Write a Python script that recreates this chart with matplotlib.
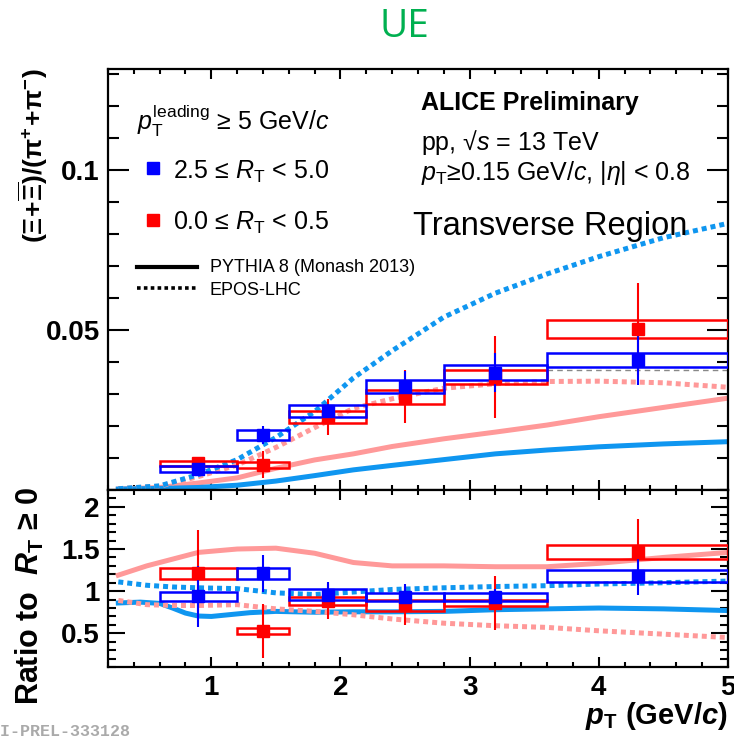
import numpy as np
import matplotlib.pyplot as plt

plt.rcParams['font.family'] = 'Liberation Sans'
plt.rcParams['mathtext.fontset'] = 'custom'
plt.rcParams['mathtext.rm'] = 'Liberation Sans'
plt.rcParams['mathtext.it'] = 'Liberation Sans:italic'
plt.rcParams['mathtext.bf'] = 'Liberation Sans:bold'
plt.rcParams['mathtext.bfit'] = 'Liberation Sans:italic:bold'

# pT bins and points
bin_lo = [0.6, 1.2, 1.6, 2.2, 2.8, 3.6]
bin_hi = [1.2, 1.6, 2.2, 2.8, 3.6, 5.0]
pt_pts = [0.9, 1.4, 1.9, 2.5, 3.2, 4.3]

# ratio Xi/pi, 2.5 <= RT < 5.0
hi_val = [0.0066, 0.0172, 0.0247, 0.0323, 0.0367, 0.0406]
hi_stat = [0.0008, 0.0027, 0.0022, 0.0050, 0.0062, 0.0078]
hi_syst = [0.0009, 0.0015, 0.0019, 0.0021, 0.0022, 0.0022]
# 0.0 <= RT < 0.5
lo_val = [0.0083, 0.0079, 0.0228, 0.0291, 0.0353, 0.0502]
lo_stat = [0.0007, 0.0042, 0.0057, 0.0083, 0.0128, 0.0144]
lo_syst = [0.0008, 0.0010, 0.0018, 0.0021, 0.0022, 0.0028]
ref_level = 0.0375

# ratio to RT >= 0
hi_r = [0.94, 1.21, 0.96, 0.93, 0.93, 1.18]
hi_r_stat = [0.36, 0.22, 0.15, 0.16, 0.10, 0.23]
hi_r_syst = [0.055, 0.065, 0.06, 0.045, 0.045, 0.07]
lo_r = [1.21, 0.53, 0.88, 0.83, 0.86, 1.46]
lo_r_stat = [0.52, 0.32, 0.21, 0.23, 0.32, 0.40]
lo_r_syst = [0.065, 0.035, 0.05, 0.07, 0.04, 0.083]

# model curves, upper panel
mc_x = [0.28, 0.6, 0.9, 1.2, 1.5, 1.8, 2.1, 2.4, 2.8, 3.2, 3.6, 4.0, 4.5, 5.0]
epos_hi = [0.0004, 0.0013, 0.0048, 0.0095, 0.0164, 0.0245, 0.0350, 0.0435, 0.0540, 0.0615, 0.0675, 0.0729, 0.0788, 0.0833]
epos_lo = [0.0004, 0.0012, 0.0042, 0.0078, 0.0133, 0.0195, 0.0255, 0.0285, 0.0318, 0.0332, 0.0339, 0.0340, 0.0335, 0.0321]
pyth_lo = [0.0003, 0.0008, 0.0022, 0.0038, 0.0068, 0.0094, 0.0113, 0.0136, 0.0160, 0.0181, 0.0203, 0.0229, 0.0258, 0.0287]
pyth_hi = [0.0003, 0.0005, 0.0008, 0.0015, 0.0028, 0.0045, 0.0063, 0.0077, 0.0095, 0.0113, 0.0125, 0.0135, 0.0144, 0.0151]

# model curves, ratio panel
r_x = [0.28, 0.5, 0.7, 0.9, 1.2, 1.5, 1.8, 2.1, 2.4, 2.8, 3.2, 3.6, 4.0, 4.5, 5.0]
pyth_lo_r = [1.19, 1.30, 1.38, 1.46, 1.50, 1.51, 1.45, 1.34, 1.30, 1.30, 1.29, 1.29, 1.33, 1.40, 1.46]
epos_hi_r = [1.11, 1.07, 1.05, 1.04, 1.03, 0.98, 0.96, 0.99, 1.02, 1.04, 1.055, 1.065, 1.085, 1.10, 1.12]
epos_lo_r = [0.89, 0.84, 0.83, 0.83, 0.84, 0.79, 0.76, 0.72, 0.67, 0.62, 0.59, 0.57, 0.53, 0.49, 0.45]
pyth_hi_x = [0.28, 0.45, 0.6, 0.7, 0.8, 0.9, 1.0, 1.1, 1.3, 1.5, 1.8, 2.1, 2.4, 2.8, 3.2, 3.6, 4.0, 4.5, 5.0]
pyth_hi_r = [0.86, 0.87, 0.855, 0.80, 0.74, 0.705, 0.70, 0.715, 0.745, 0.76, 0.75, 0.755, 0.755, 0.76, 0.78, 0.79, 0.80, 0.79, 0.77]

c_hi = '#0000ff'
c_lo = '#ff0000'
c_mc_hi = '#0f96f0'
c_mc_lo = '#ff9999'
dots = (0, (1, 0.8))

fig = plt.figure(figsize=(7.34, 7.39), dpi=100)
ax1 = fig.add_axes([0.1471, 0.3369, 0.8447, 0.5697])
ax2 = fig.add_axes([0.1471, 0.0974, 0.8447, 0.2395])

widths = np.array(bin_hi) - np.array(bin_lo)


def draw_set(ax, val, stat, syst, col):
    val = np.array(val)
    syst = np.array(syst)
    ax.bar(bin_lo, 2 * syst, width=widths, bottom=val - syst, align='edge',
           fill=False, edgecolor=col, linewidth=1.8, zorder=3)
    ax.errorbar(pt_pts, val, yerr=stat, fmt='none', ecolor=col, elinewidth=1.5,
                capsize=0, zorder=4)
    ax.plot(pt_pts, val, 's', color=col, ms=9, zorder=5)


def curve(ax, x, y, col, ls='-'):
    ax.plot(x, y, color=col, lw=3.6, ls=ls, dash_capstyle='butt',
            solid_joinstyle='round', zorder=2)


curve(ax1, mc_x, pyth_lo, c_mc_lo)
curve(ax1, mc_x, pyth_hi, c_mc_hi)
curve(ax1, mc_x, epos_lo, c_mc_lo, dots)
curve(ax1, mc_x, epos_hi, c_mc_hi, dots)
ax1.hlines(ref_level, bin_lo[-1], bin_hi[-1], colors='#888888', linestyles=(0, (4, 3)), lw=1.0, zorder=2)
draw_set(ax1, lo_val, lo_stat, lo_syst, c_lo)
draw_set(ax1, hi_val, hi_stat, hi_syst, c_hi)

curve(ax2, r_x, pyth_lo_r, c_mc_lo)
curve(ax2, pyth_hi_x, pyth_hi_r, c_mc_hi)
curve(ax2, r_x, epos_lo_r, c_mc_lo, dots)
curve(ax2, r_x, epos_hi_r, c_mc_hi, dots)
draw_set(ax2, lo_r, lo_r_stat, lo_r_syst, c_lo)
draw_set(ax2, hi_r, hi_r_stat, hi_r_syst, c_hi)

for ax in (ax1, ax2):
    ax.set_xlim(0.2, 5.0)
    for s in ax.spines.values():
        s.set_linewidth(1.6)
    ax.set_xticks([1, 2, 3, 4, 5])
    ax.set_xticks(np.arange(0.2, 5.01, 0.2), minor=True)
    ax.tick_params(which='both', direction='in', top=True, right=True, width=1.5)
    ax.tick_params(axis='x', which='major', length=7)
    ax.tick_params(axis='x', which='minor', length=3.6)

ax1.set_ylim(0, 0.1315)
ax1.set_yticks([0.05, 0.1], ['0.05', '0.1'], fontsize=20, fontweight='bold')
ax1.set_yticks(np.arange(0, 0.131, 0.01), minor=True)
ax1.tick_params(axis='y', which='major', length=15, pad=6)
ax1.tick_params(axis='y', which='minor', length=8)
ax1.set_xticklabels([])

ax2.set_ylim(0.1, 2.2)
ax2.set_yticks([0.5, 1, 1.5, 2], ['0.5', '1', '1.5', '2'], fontsize=20, fontweight='bold')
ax2.set_yticks(np.arange(0.1, 2.21, 0.1), minor=True)
ax2.tick_params(axis='y', which='major', length=12, pad=6)
ax2.tick_params(axis='y', which='minor', length=6)
ax2.set_xticks([1, 2, 3, 4, 5], ['1', '2', '3', '4', '5'], fontsize=20, fontweight='bold')
ax2.tick_params(axis='x', which='major', pad=6)

# axis titles
fig.text(0.045, 1 - 68 / 739,
         r'$\mathbf{(\Xi\!+\!}\overline{\mathbf{\Xi}}\mathbf{)/(\pi^{+}\!+\!\pi^{-})}$',
         rotation=90, ha='center', va='top', fontsize=19)
fig.text(0.041, 1 - 487 / 739, r'Ratio to  $\boldsymbol{R}_{\mathbf{T}}$ ≥ 0',
         rotation=90, ha='center', va='top', fontsize=22, fontweight='bold')
fig.text(728 / 734, 1 - 724 / 739, r'$\boldsymbol{p}_{\mathbf{T}}$ (GeV/$\boldsymbol{c}$)',
         ha='right', va='baseline', fontsize=21, fontweight='bold')

fig.text(0.5504, 0.95, 'UE', color='#00b050', fontsize=28, family='Open Sans',
         ha='center', va='baseline')

# legend-like annotations
ax1.text(0.0468, 0.855, r'$p_{\rm T}^{\rm leading}$ ≥ 5 GeV/$c$', transform=ax1.transAxes,
         fontsize=18, va='baseline')
ax1.plot([0.0726], [0.765], 's', color=c_hi, ms=9, transform=ax1.transAxes)
ax1.text(0.105, 0.740, r'2.5 ≤ $R_{\rm T}$ < 5.0', transform=ax1.transAxes, fontsize=18, va='baseline')
ax1.plot([0.0726], [0.641], 's', color=c_lo, ms=9, transform=ax1.transAxes)
ax1.text(0.105, 0.6176, r'0.0 ≤ $R_{\rm T}$ < 0.5', transform=ax1.transAxes, fontsize=18, va='baseline')
ax1.plot([0.0468, 0.1435], [0.530, 0.530], color='black', lw=3, transform=ax1.transAxes)
ax1.text(0.1645, 0.5185, 'PYTHIA 8 (Monash 2013)', transform=ax1.transAxes, fontsize=13, va='baseline')
ax1.plot([0.0468, 0.1435], [0.479, 0.479], color='black', lw=2.6, ls=(0, (1, 0.9)),
         dash_capstyle='butt', transform=ax1.transAxes)
ax1.text(0.1645, 0.463, 'EPOS-LHC', transform=ax1.transAxes, fontsize=13, va='baseline')

ax1.text(0.505, 0.9026, 'ALICE Preliminary', transform=ax1.transAxes, fontsize=18,
         fontweight='bold', va='baseline')
ax1.text(0.505, 0.8076, r'pp, √$s$ = 13 TeV', transform=ax1.transAxes, fontsize=18, va='baseline')
ax1.text(0.505, 0.736, r'$p_{\rm T}$≥0.15 GeV/$c$, $|\eta|$ < 0.8', transform=ax1.transAxes,
         fontsize=18, va='baseline')
ax1.text(0.492, 0.6057, 'Transverse Region', transform=ax1.transAxes, fontsize=23.5, va='baseline')

fig.text(-0.027, 0.0099, 'ALI-PREL-333128', family='Liberation Mono', fontweight='bold',
         color='#aaaaaa', fontsize=12, va='center')

fig.savefig('out.png', dpi=100)
